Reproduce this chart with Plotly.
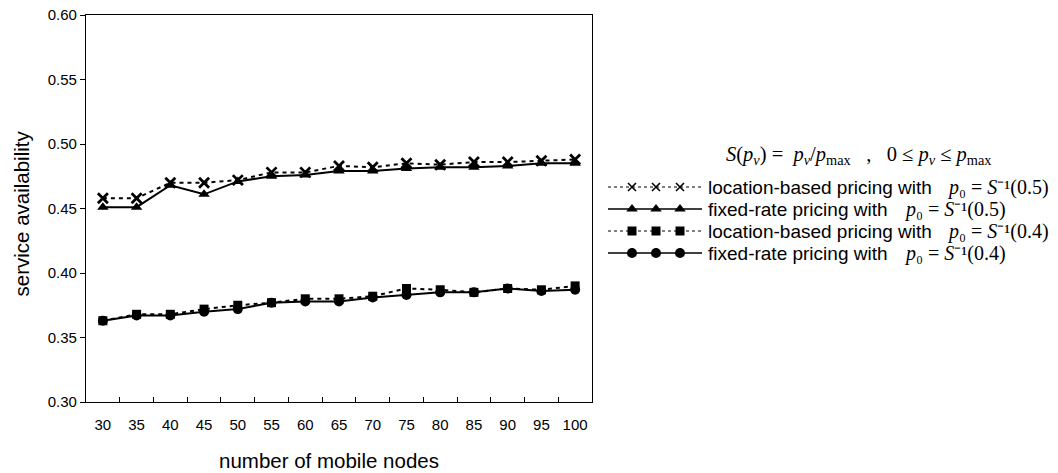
import plotly.graph_objects as go

# ---------------- data ----------------
nodes = ["30", "35", "40", "45", "50", "55", "60", "65", "70", "75", "80", "85", "90", "95", "100"]
loc_05 = [0.458, 0.458, 0.470, 0.470, 0.472, 0.478, 0.478, 0.483, 0.482, 0.485, 0.484, 0.486, 0.486, 0.487, 0.488]
fix_05 = [0.451, 0.451, 0.468, 0.461, 0.471, 0.475, 0.476, 0.479, 0.479, 0.481, 0.482, 0.482, 0.483, 0.485, 0.485]
loc_04 = [0.363, 0.368, 0.368, 0.372, 0.375, 0.377, 0.380, 0.380, 0.382, 0.388, 0.387, 0.385, 0.388, 0.387, 0.390]
fix_04 = [0.363, 0.367, 0.367, 0.370, 0.372, 0.377, 0.378, 0.378, 0.381, 0.383, 0.385, 0.385, 0.388, 0.386, 0.387]
y_ticks = [0.30, 0.35, 0.40, 0.45, 0.50, 0.55, 0.60]

series_names = [
    "location-based pricing with",
    "fixed-rate pricing with",
    "location-based pricing with",
    "fixed-rate pricing with",
]
series_math = [
    "<i>p</i>\u2080 = <i>S</i>\u207b\u00b9(0.5)",
    "<i>p</i>\u2080 = <i>S</i>\u207b\u00b9(0.5)",
    "<i>p</i>\u2080 = <i>S</i>\u207b\u00b9(0.4)",
    "<i>p</i>\u2080 = <i>S</i>\u207b\u00b9(0.4)",
]
formula = ("<i>S</i>(<i>p</i><sub><i>v</i></sub>) =  <i>p</i><sub><i>v</i></sub>/<i>p</i><sub>max</sub>"
           "   ,   0 \u2264 <i>p</i><sub><i>v</i></sub> \u2264 <i>p</i><sub>max</sub>")

# ---------------- layout constants ----------------
W, H = 1058, 473
PL, PR, PT, PB = 86, 592, 15, 402
SANS = "Liberation Sans, Arial, sans-serif"
SERIF = "Liberation Serif, Times New Roman, serif"
BLACK = "#000000"

styles = [
    dict(symbol="x-thin", size=10, dash="4px,4px", mline=2.8, ls=1.0, lsdash="dot", lsize=8),
    dict(symbol="triangle-up", size=10, dash="solid", mline=0, ls=1.4, lsdash="solid", lsize=10),
    dict(symbol="square", size=9, dash="4px,4px", mline=0, ls=1.0, lsdash="dot", lsize=9),
    dict(symbol="circle", size=10, dash="solid", mline=0, ls=1.4, lsdash="solid", lsize=10),
]
all_series = [loc_05, fix_05, loc_04, fix_04]

fig = go.Figure()

for vals, st in zip(all_series, styles):
    fig.add_trace(go.Scatter(
        x=nodes, y=vals, mode="lines+markers",
        line=dict(color=BLACK, width=2, dash=st["dash"]),
        marker=dict(symbol=st["symbol"], size=st["size"], color=BLACK,
                    line=dict(color=BLACK, width=st["mline"])),
        showlegend=False, hoverinfo="skip",
    ))

# ---------------- manual legend (pixel coordinate overlay axis) ----------------
row_y = [187, 209, 231, 253]
line_x0, line_x1 = 608, 702
mk_x = [632, 656, 680]
for ry, st in zip(row_y, styles):
    fig.add_trace(go.Scatter(
        x=[line_x0] + mk_x + [line_x1], y=[ry] * 5, mode="lines",
        line=dict(color=BLACK, width=st["ls"], dash=st["lsdash"]),
        xaxis="x2", yaxis="y2", showlegend=False, hoverinfo="skip",
    ))
    fig.add_trace(go.Scatter(
        x=mk_x, y=[ry] * 3, mode="markers",
        marker=dict(symbol=st["symbol"], size=st["lsize"], color=BLACK,
                    line=dict(color=BLACK, width=1.6 if st["symbol"] == "x-thin" else 0)),
        xaxis="x2", yaxis="y2", showlegend=False, hoverinfo="skip",
    ))

annotations = []
math_x = [945, 902, 945, 902]
for ry, name, mth, mx in zip(row_y, series_names, series_math, math_x):
    annotations.append(dict(x=706, y=ry, xref="x2", yref="y2", text=name, showarrow=False,
                            xanchor="left", yanchor="middle",
                            font=dict(family=SANS, size=19, color=BLACK)))
    annotations.append(dict(x=mx, y=ry, xref="x2", yref="y2", text=mth, showarrow=False,
                            xanchor="left", yanchor="middle",
                            font=dict(family=SERIF, size=20, color=BLACK)))
annotations.append(dict(x=724, y=155, xref="x2", yref="y2", text=formula, showarrow=False,
                        xanchor="left", yanchor="middle",
                        font=dict(family=SERIF, size=20.5, color=BLACK)))
# axis titles
annotations.append(dict(x=(PL + PR) / 2 - 10, y=460, xref="x2", yref="y2", text="number of mobile nodes",
                        showarrow=False, xanchor="center", yanchor="middle",
                        font=dict(family=SANS, size=20.5, color=BLACK)))
annotations.append(dict(x=21, y=(PT + PB) / 2 + 5, xref="x2", yref="y2", text="service availability",
                        showarrow=False, xanchor="center", yanchor="middle", textangle=-90,
                        font=dict(family=SANS, size=20.5, color=BLACK)))

fig.update_layout(
    width=W, height=H,
    margin=dict(l=0, r=0, t=0, b=0),
    paper_bgcolor="white", plot_bgcolor="rgba(0,0,0,0)",
    xaxis=dict(
        type="category", categoryorder="array", categoryarray=nodes,
        domain=[PL / W, PR / W], range=[-0.5, len(nodes) - 0.5],
        tickson="boundaries", ticks="inside", ticklen=5, tickwidth=1, tickcolor=BLACK,
        tickangle=0, ticklabelstandoff=9,
        showline=True, linecolor=BLACK, linewidth=1.3, mirror=True,
        showgrid=False, zeroline=False, automargin=False,
        tickfont=dict(family=SANS, size=15, color=BLACK),
        anchor="y",
    ),
    yaxis=dict(
        domain=[1 - PB / H, 1 - PT / H], range=[0.30, 0.60],
        tickvals=y_ticks, tickformat=".2f",
        ticks="outside", ticklen=5, tickwidth=1, tickcolor=BLACK,
        showline=True, linecolor=BLACK, linewidth=1.3, mirror=True,
        showgrid=False, zeroline=False, automargin=False,
        tickfont=dict(family=SANS, size=15, color=BLACK),
        anchor="x",
    ),
    xaxis2=dict(domain=[0, 1], range=[0, W], visible=False, anchor="y2", fixedrange=True),
    yaxis2=dict(domain=[0, 1], range=[H, 0], visible=False, anchor="x2", fixedrange=True),
    annotations=annotations,
    showlegend=False,
)

fig.write_html("out.html")
